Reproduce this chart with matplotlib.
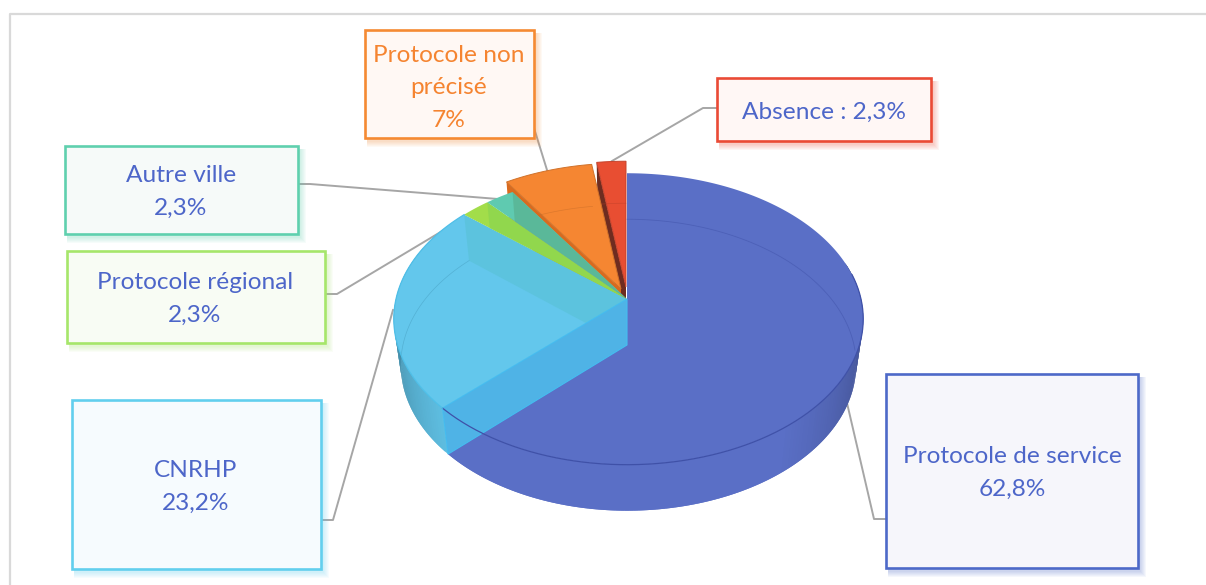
import numpy as np
import matplotlib
matplotlib.use('Agg')
from matplotlib import pyplot as plt
from matplotlib.colors import to_rgb
from matplotlib.patches import Polygon, Rectangle

plt.rcParams['font.family'] = ['Lato', 'DejaVu Sans']

names = ['Protocole de service', 'CNRHP', 'Protocole régional', 'Autre ville', 'Protocole non\nprécisé', 'Absence']
values = [62.8, 23.2, 2.3, 2.3, 7, 2.3]
texts = ['62,8%', '23,2%', '2,3%', '2,3%', '7%', '2,3%']
colors = ['#5a6fc6', '#63c7ec', '#a2dd4a', '#5fcab0', '#f58632', '#e84e32']
wall_tint = [None, '#5bc3dc', '#8fd64e', '#5ab596']
box_colors = ['#4d69c8', '#62cfee', '#a6e66a', '#5fd0ae', '#f58a32', '#ea4a35']
box_fill = ['#f6f6fb', '#f6fbfe', '#f8fcf4', '#f6faf9', '#fff8f4', '#fff7f5']

# box x0, y0, x1, y1 and text centre, in pixels
boxes = [(886, 374, 1138, 568), (72, 400, 321, 569), (67, 251, 325, 343),
         (65, 146, 298, 234), (365, 30, 534, 138), (717, 78, 931, 141)]
centres = [(1012, 473), (196, 487), (195, 299), (181, 192), (449, 88), (824, 112)]
leaders = [[(847, 403), (874, 519), (886, 519)],
           [(393, 310), (333, 520), (321, 520)],
           [(325, 294), (337, 294), (464, 218)],
           [(298, 184), (310, 184), (498, 199)],
           [(534, 128), (547, 170)],
           [(717, 108), (703, 108), (612, 161)]]

CX, CY = 627, 299
A_RIGHT, A_LEFT, B, F = 234, 231, 143, 7.3
DEPTH = 46
LOW = 0.97
TEXT_BLUE = '#4d66c9'


def rim(t, dx=0, dy=0):
    t = np.radians(t)
    s = F / (F + np.cos(t))
    a = np.where(np.sin(t) < 0, A_LEFT, A_RIGHT)
    return np.column_stack([CX + dx + a * np.sin(t) * s, CY + dy - B * np.cos(t) * s])


def low(t, dx=0, dy=0):
    t = np.radians(t)
    s = F / (F + np.cos(t))
    a = np.where(np.sin(t) < 0, A_LEFT, A_RIGHT)
    return np.column_stack([CX + dx + LOW * a * np.sin(t) * s, CY + dy + DEPTH - B * np.cos(t) * s])


def arc(t0, t1):
    return np.linspace(t0, t1, int(abs(t1 - t0)) + 2)


def face_pts(t0, t1, dx=0, dy=0):
    return np.vstack([[CX + dx, CY + dy], rim(arc(t0, t1), dx, dy)])


def side_wall(t, dx=0, dy=0):
    return np.vstack([rim([t], dx, dy), [[CX + dx, CY + dy], [CX + dx, CY + dy + DEPTH]], low([t], dx, dy)])


def mix(c, k):
    return tuple(np.clip(np.array(to_rgb(c)) * k, 0, 1))


fig = plt.figure(figsize=(12.06, 5.85), dpi=100)
ax = fig.add_axes([0, 0, 1, 1])
ax.set_xlim(0, 1206)
ax.set_ylim(585, 0)
ax.axis('off')

# frame of the slide
ax.plot([10, 10, 1206], [585, 14, 14], color='#d9d9d9', lw=1.6, zorder=1)

# leader lines
for pts in leaders:
    pts = np.array(pts)
    ax.plot(pts[:, 0], pts[:, 1], color='#a6a6a6', lw=1.4, zorder=2)

edges = np.cumsum([0] + values) / sum(values) * 360
angles = list(zip(edges[:-1], edges[1:]))
z = 3

# exploded slices first, they sit behind
shift = {4: (-6, -10), 5: (-1, -12)}
wall_col = {4: '#d96a1e', 5: '#6e2c20'}
for i in [5, 4]:
    t0, t1 = angles[i]
    dx, dy = shift[i]
    ax.add_patch(Polygon(side_wall(t0, dx, dy), fc=wall_col[i], ec='none', zorder=z))
    z += 1
    face = Polygon(face_pts(t0, t1, dx, dy), fc=colors[i], ec=mix(colors[i], 0.85), lw=0.7, zorder=z)
    ax.add_patch(face)
    z += 1
    lo = low(arc(t0, t1), dx, dy - 4)
    ax.plot(lo[:, 0], lo[:, 1], color=mix(colors[i], 0.8), lw=0.5, alpha=0.5, zorder=z)
    z += 1

# outer walls, thin quads that overlap so no seams show
walls = [(0, 75, angles[0][1], lambda f: 0.62 + 0.38 * min(f / 0.45, 1)),
         (1, angles[1][0], 292, lambda f: 0.95 - 0.42 * f)]
for i, a0, a1, shade in walls:
    ts = arc(a0, a1)
    for j in range(len(ts) - 1):
        quad = np.vstack([rim(ts[j:j + 3]), low(ts[j:j + 3])[::-1]])
        c = mix(colors[i], shade(j / (len(ts) - 1)))
        ax.add_patch(Polygon(quad, fc=c, ec='none', zorder=z))
        z += 0.001
z = int(z) + 1

# flat faces of the slices still in place
for i in range(4):
    t0, t1 = angles[i]
    face = Polygon(face_pts(t0, t1), fc=colors[i], ec='none', zorder=z)
    ax.add_patch(face)
    z += 1
    if i > 0:
        # end wall seen through the top
        wall = Polygon(side_wall(t1), fc=wall_tint[i], ec='none', alpha=0.85, zorder=z)
        ax.add_patch(wall)
        wall.set_clip_path(face)
        z += 1

# wall of the CNRHP slice seen over the big slice
t = angles[1][0]
ax.add_patch(Polygon(side_wall(t), fc='#4fb3e6', ec='#45bdf0', lw=0.8, zorder=z))
z += 1

# far and near rims seen through the top
lo = low(arc(262, angles[1][1]))
ax.plot(lo[:, 0], lo[:, 1], color='#3c8fb0', lw=0.5, alpha=0.4, zorder=z)
lo = low(arc(0, 92))
ax.plot(lo[:, 0], lo[:, 1], color='#3f51a8', lw=0.6, alpha=0.5, zorder=z)
up = rim(arc(80, angles[0][1]))
ax.plot(up[:, 0], up[:, 1], color='#3f51a8', lw=0.9, zorder=z)
up = rim(arc(angles[1][0], angles[1][1]))
ax.plot(up[:, 0], up[:, 1], color='#4fbfe8', lw=0.9, zorder=z)
z += 1

# label boxes
for i, (x0, y0, x1, y1) in enumerate(boxes):
    for k in range(6, 0, -1):
        ax.add_patch(Rectangle((x0 + 2, y0 + 3), x1 - x0 + k, y1 - y0 + k, fc=box_colors[i],
                               ec='none', alpha=0.05, zorder=z))
    ax.add_patch(Rectangle((x0, y0), x1 - x0, y1 - y0, fc=box_fill[i], ec=box_colors[i], lw=1.9, zorder=z + 1))
    c = '#f58430' if i == 4 else TEXT_BLUE
    if i == 5:
        label = names[i] + ' : ' + texts[i]
    else:
        label = names[i] + '\n' + texts[i]
    ax.text(centres[i][0], centres[i][1], label, ha='center', va='center', color=c,
            fontsize=17.6, linespacing=1.66, zorder=z + 2)

fig.savefig('out.png', dpi=100)
